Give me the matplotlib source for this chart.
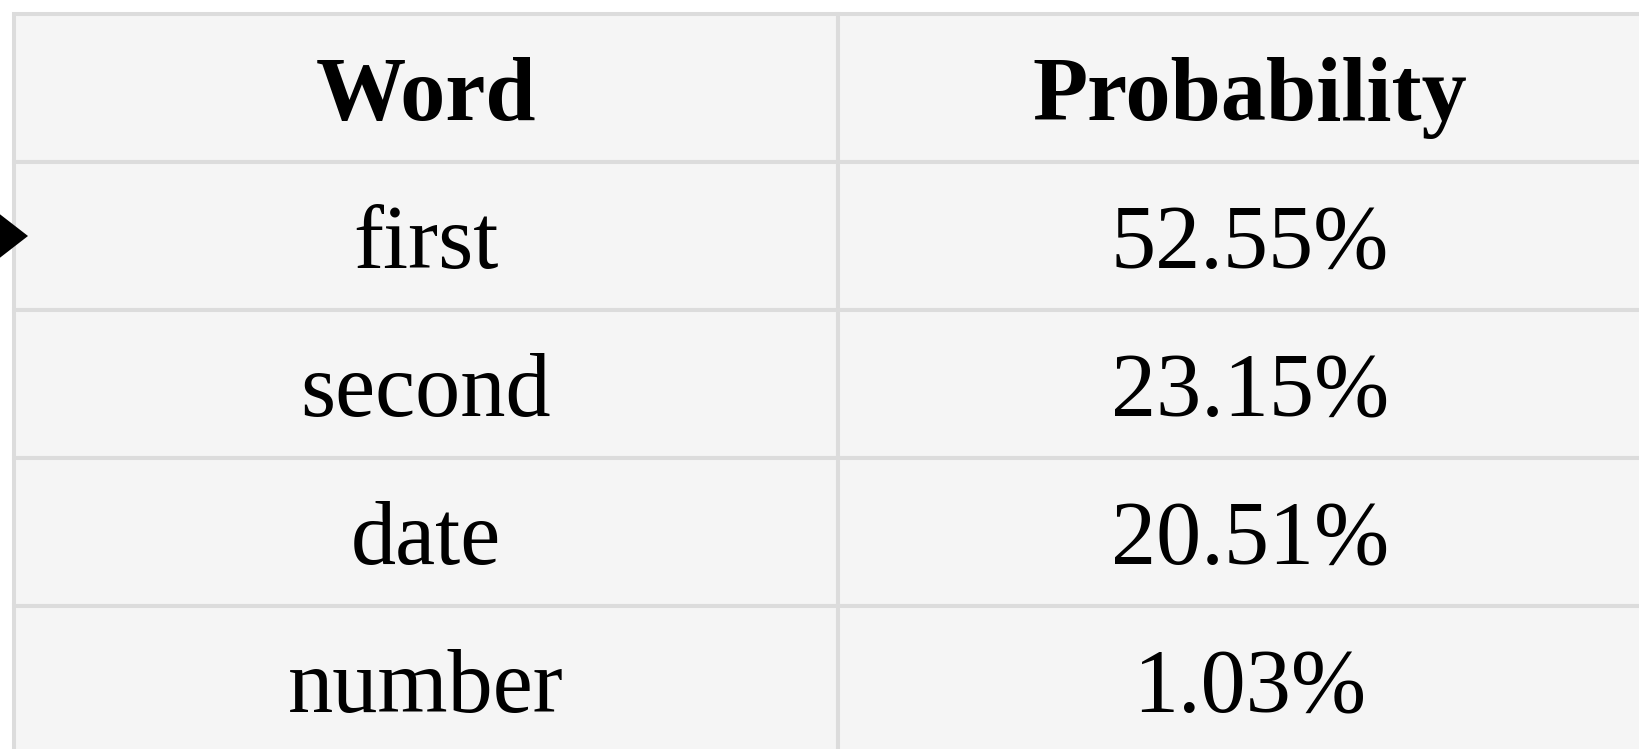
import matplotlib.pyplot as plt
from matplotlib.patches import Rectangle, Polygon

headers = ["Word", "Probability"]
words = ["first", "second", "date", "number"]
probs = [52.55, 23.15, 20.51, 1.03]

W, H = 1640, 749
left, top = 14, 14
col_w = 824
row_h = 148
cell_bg = "#f5f5f5"
line_col = "#dcdcdc"

plt.rcParams["font.family"] = ["Liberation Serif", "DejaVu Serif"]

fig = plt.figure(figsize=(W / 100, H / 100), dpi=100)
ax = fig.add_axes([0, 0, 1, 1])
ax.set_xlim(0, W)
ax.set_ylim(H, 0)
ax.axis("off")

rows = [headers] + [[w, f"{p:.2f}%"] for w, p in zip(words, probs)]
for r, row in enumerate(rows):
    y = top + r * row_h
    for c, txt in enumerate(row):
        x = left + c * col_w
        ax.add_patch(Rectangle((x, y), col_w, row_h, facecolor=cell_bg,
                               edgecolor=line_col, linewidth=2.9))
        ax.text(x + col_w / 2, y + row_h / 2 + 10, txt, ha="center", va="center",
                fontsize=65, fontweight="bold" if r == 0 else "normal",
                color="black")

# selection marker on first data row
yc = top + row_h * 1.5
ax.add_patch(Polygon([(28, yc), (-12, yc - 31), (-12, yc + 31)],
                     closed=True, facecolor="black", edgecolor="none"))

fig.savefig("out.png", dpi=100)
